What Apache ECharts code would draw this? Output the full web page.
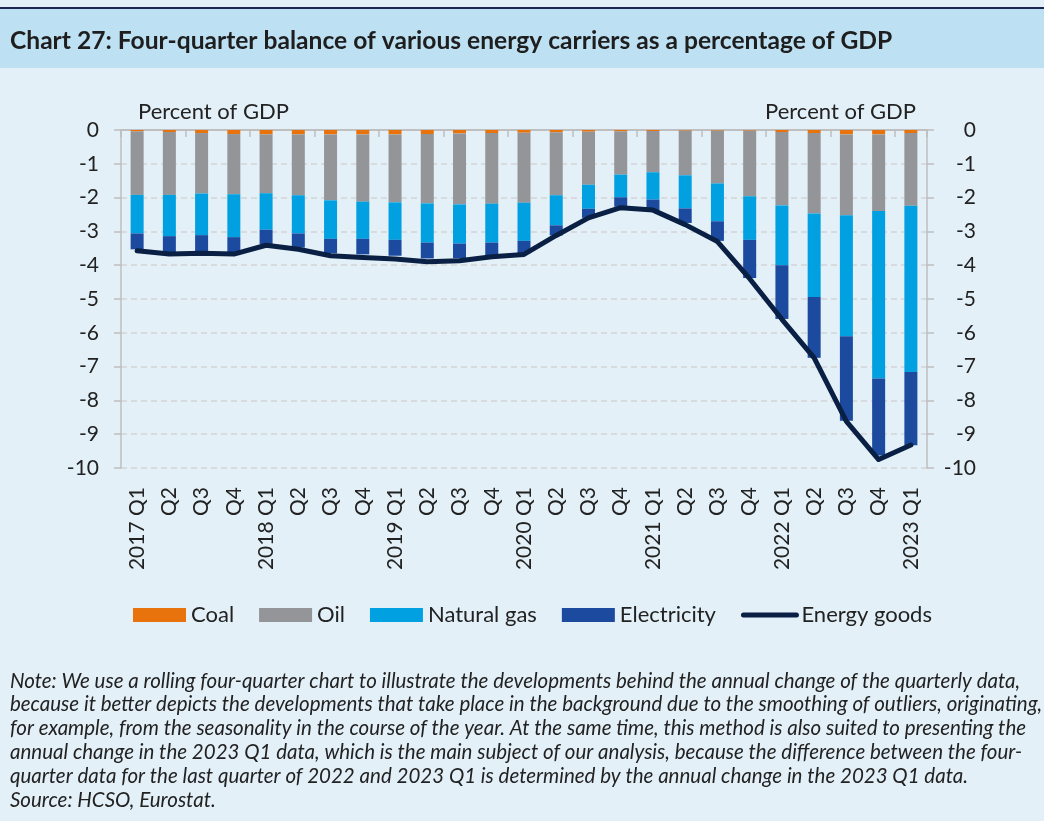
<!DOCTYPE html>
<html>
<head>
<meta charset="utf-8">
<script src="https://cdn.jsdelivr.net/npm/echarts@6/dist/echarts.min.js"></script>
<style>
  html, body { margin: 0; padding: 0; background: #fff; }
  #chart { width: 1044px; height: 821px; }
</style>
</head>
<body>
<div id="chart"></div>
<script>
// quarters 2017 Q1 .. 2023 Q1
var categories = [
    '2017 Q1', 'Q2', 'Q3', 'Q4',
    '2018 Q1', 'Q2', 'Q3', 'Q4',
    '2019 Q1', 'Q2', 'Q3', 'Q4',
    '2020 Q1', 'Q2', 'Q3', 'Q4',
    '2021 Q1', 'Q2', 'Q3', 'Q4',
    '2022 Q1', 'Q2', 'Q3', 'Q4',
    '2023 Q1'
];
// percent of GDP
var coal = [-0.04, -0.06, -0.09, -0.12, -0.13, -0.13, -0.13, -0.13, -0.13, -0.12, -0.10, -0.09, -0.08,
    -0.07, -0.05, -0.04, -0.03, -0.02, -0.02, -0.02, -0.06, -0.09, -0.13, -0.13, -0.09];
var oil = [-1.88, -1.86, -1.79, -1.78, -1.74, -1.80, -1.95, -1.99, -2.01, -2.05, -2.10, -2.09, -2.07,
    -1.86, -1.57, -1.28, -1.22, -1.32, -1.56, -1.94, -2.17, -2.38, -2.39, -2.27, -2.15];
var gas = [-1.14, -1.22, -1.23, -1.27, -1.08, -1.13, -1.14, -1.10, -1.11, -1.16, -1.16, -1.15, -1.13,
    -0.89, -0.71, -0.67, -0.81, -0.98, -1.12, -1.29, -1.77, -2.47, -3.58, -4.95, -4.92];
var electricity = [-0.47, -0.47, -0.49, -0.44, -0.43, -0.42, -0.43, -0.46, -0.47, -0.47, -0.44, -0.39, -0.37,
    -0.30, -0.27, -0.28, -0.31, -0.43, -0.58, -1.13, -1.59, -1.80, -2.50, -2.28, -2.17];
var energyGoods = [-3.57, -3.67, -3.65, -3.67, -3.41, -3.53, -3.72, -3.77, -3.82, -3.90, -3.87, -3.75, -3.68,
    -3.12, -2.60, -2.30, -2.37, -2.80, -3.30, -4.40, -5.60, -6.74, -8.62, -9.75, -9.32];

var noteLines = [
    'Note: We use a rolling four-quarter chart to illustrate the developments behind the annual change of the quarterly data,',
    'because it better depicts the developments that take place in the background due to the smoothing of outliers, originating,',
    'for example, from the seasonality in the course of the year. At the same time, this method is also suited to presenting the',
    'annual change in the 2023 Q1 data, which is the main subject of our analysis, because the difference between the four-',
    'quarter data for the last quarter of 2022 and 2023 Q1 is determined by the annual change in the 2023 Q1 data.',
    'Source: HCSO, Eurostat.'
];

var FONT = 'Lato, "Noto Sans", sans-serif';
var TXT = '#222';
var AXIS = '#bfbfbf';
var LINE_COLOR = '#0a1f44';

var chart = echarts.init(document.getElementById('chart'));

var graphics = [
    { type: 'rect', shape: { x: 0, y: 7, width: 1044, height: 2 }, style: { fill: '#1b2750' }, silent: true },
    { type: 'rect', shape: { x: 0, y: 9, width: 1044, height: 59 }, style: { fill: '#bee0f3' }, silent: true },
    {
        type: 'text', x: 10, y: 41,
        style: {
            text: 'Chart 27: Four-quarter balance of various energy carriers as a percentage of GDP',
            fontFamily: FONT, fontWeight: 'bold', fontSize: 24.6, fill: '#1e1e1e', verticalAlign: 'middle'
        }
    }
];
noteLines.forEach(function (line, i) {
    graphics.push({
        type: 'text', x: 10, y: 681 + i * 23.8,
        style: {
            text: line, fontFamily: FONT, fontStyle: 'italic', fontSize: 20.5,
            fill: TXT, verticalAlign: 'middle'
        }
    });
});

function barSeries(name, data, color) {
    return {
        name: name,
        type: 'bar',
        stack: 'total',
        barWidth: 13,
        data: data,
        itemStyle: { color: color },
        emphasis: { disabled: true }
    };
}

var yAxisBase = {
    type: 'value',
    min: -10,
    max: 0,
    interval: 1,
    axisLine: { show: true, lineStyle: { color: AXIS, width: 1.5 } },
    axisTick: { show: true, length: 7, lineStyle: { color: AXIS, width: 1.5 } },
    splitLine: { show: true, lineStyle: { color: '#d4d4d4', type: [6, 4], width: 1.5 } },
    nameLocation: 'end',
    nameGap: 18
};

var option = {
    backgroundColor: '#e3f0f8',
    animation: false,
    graphic: graphics,
    grid: { left: 121, right: 117, top: 130, bottom: 353 },
    legend: {
        left: 128,
        top: 599,
        itemWidth: 53,
        itemHeight: 14,
        itemGap: 25,
        textStyle: { fontFamily: FONT, fontSize: 22, color: TXT },
        data: [
            { name: 'Coal', icon: 'rect' },
            { name: 'Oil', icon: 'rect' },
            { name: 'Natural gas', icon: 'rect' },
            { name: 'Electricity', icon: 'rect' },
            {
                name: 'Energy goods',
                itemStyle: { color: 'transparent', borderWidth: 0 },
                lineStyle: { width: 5, color: LINE_COLOR, cap: 'round' }
            }
        ]
    },
    xAxis: [{
        type: 'category',
        data: categories,
        position: 'top',
        axisLine: { show: true, onZero: false, lineStyle: { color: AXIS, width: 2 } },
        axisTick: { show: true, inside: true, length: 7, lineStyle: { color: AXIS, width: 1.5 } },
        axisLabel: { show: false }
    }, {
        type: 'category',
        data: categories,
        position: 'bottom',
        axisLine: { show: false },
        axisTick: { show: false },
        axisLabel: { rotate: 90, margin: 19, interval: 0, fontFamily: FONT, fontSize: 21, color: TXT }
    }],
    yAxis: [
        echarts.util.merge({
            position: 'left',
            name: 'Percent of GDP',
            nameTextStyle: { fontFamily: FONT, fontSize: 22, color: TXT, align: 'left', verticalAlign: 'middle', padding: [0, 0, 0, 17] },
            axisLabel: { margin: 22, fontFamily: FONT, fontSize: 21, color: TXT }
        }, yAxisBase, true),
        echarts.util.merge({
            position: 'right',
            name: 'Percent of GDP',
            nameTextStyle: { fontFamily: FONT, fontSize: 22, color: TXT, align: 'right', verticalAlign: 'middle', padding: [0, 11, 0, 0] },
            axisLabel: { margin: 49, align: 'right', fontFamily: FONT, fontSize: 21, color: TXT },
            splitLine: { show: false }
        }, yAxisBase, false)
    ],
    series: [
        barSeries('Coal', coal, '#e8730c'),
        barSeries('Oil', oil, '#939598'),
        barSeries('Natural gas', gas, '#00a0e1'),
        barSeries('Electricity', electricity, '#1c4a9f'),
        {
            name: 'Energy goods',
            type: 'line',
            data: energyGoods,
            symbol: 'none',
            z: 5,
            lineStyle: { color: LINE_COLOR, width: 5, cap: 'round', join: 'round' },
            itemStyle: { color: LINE_COLOR },
            emphasis: { disabled: true }
        }
    ]
};

chart.setOption(option);
</script>
</body>
</html>
